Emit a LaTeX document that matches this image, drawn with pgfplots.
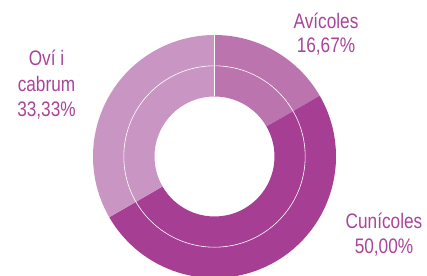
\documentclass[border=0pt]{standalone}
\usepackage{pgfplots}
\pgfplotsset{compat=1.18}
\usepackage{fontspec}
\setmainfont{Liberation Sans}[FakeStretch=0.82]
\definecolor{cav}{HTML}{BC74AE}
\definecolor{ccu}{HTML}{A63E94}
\definecolor{cov}{HTML}{C996C4}
\definecolor{ctxt}{HTML}{A8449A}
% data (percent)
\def\vAv{16.67}
\def\vCu{50.00}
\def\vOv{33.33}
\begin{document}
\begin{tikzpicture}
\begin{axis}[x=1bp,y=1bp,xmin=0,xmax=427,ymin=0,ymax=276,
  hide axis, clip=true]
\def\cx{214.5}\def\cy{119.5}
\pgfmathsetmacro\aA{90}
\pgfmathsetmacro\aB{90-3.6*\vAv}
\pgfmathsetmacro\aC{\aB-3.6*\vCu}
\pgfmathsetmacro\aD{\aC-3.6*\vOv}
\newcommand\slice[3]{%
  \fill[#3] (axis cs:\cx,\cy) ++(#1:121.5bp) arc[start angle=#1,end angle=#2,radius=121.5bp]
    -- ++(#2+180:61.5bp) arc[start angle=#2,end angle=#1,radius=60bp] -- cycle;}
\slice{\aA}{\aB}{cav}
\slice{\aB}{\aC}{ccu}
\slice{\aC}{\aD}{cov}
\draw[white,line width=0.6bp] (axis cs:\cx,\cy) circle[radius=90.7bp];
\draw[white,line width=0.8bp] (axis cs:\cx,\cy) ++(0,60bp) -- ++(0,61.5bp);
\begin{scope}[every node/.style={text=ctxt,font=\fontsize{21bp}{25.8bp}\selectfont,anchor=base,inner sep=0pt}]
\node at (axis cs:326,247.7) {Avícoles};
\node at (axis cs:326,223.3) {16,67\%};
\node at (axis cs:46.5,211) {Oví i};
\node at (axis cs:46.5,184.3) {cabrum};
\node at (axis cs:46.5,159.3) {33,33\%};
\node at (axis cs:384,48) {Cunícoles};
\node at (axis cs:384,22.5) {50,00\%};
\end{scope}
\end{axis}
\pgfresetboundingbox
\path (current axis.south west) rectangle (current axis.north east);
\end{tikzpicture}
\end{document}
